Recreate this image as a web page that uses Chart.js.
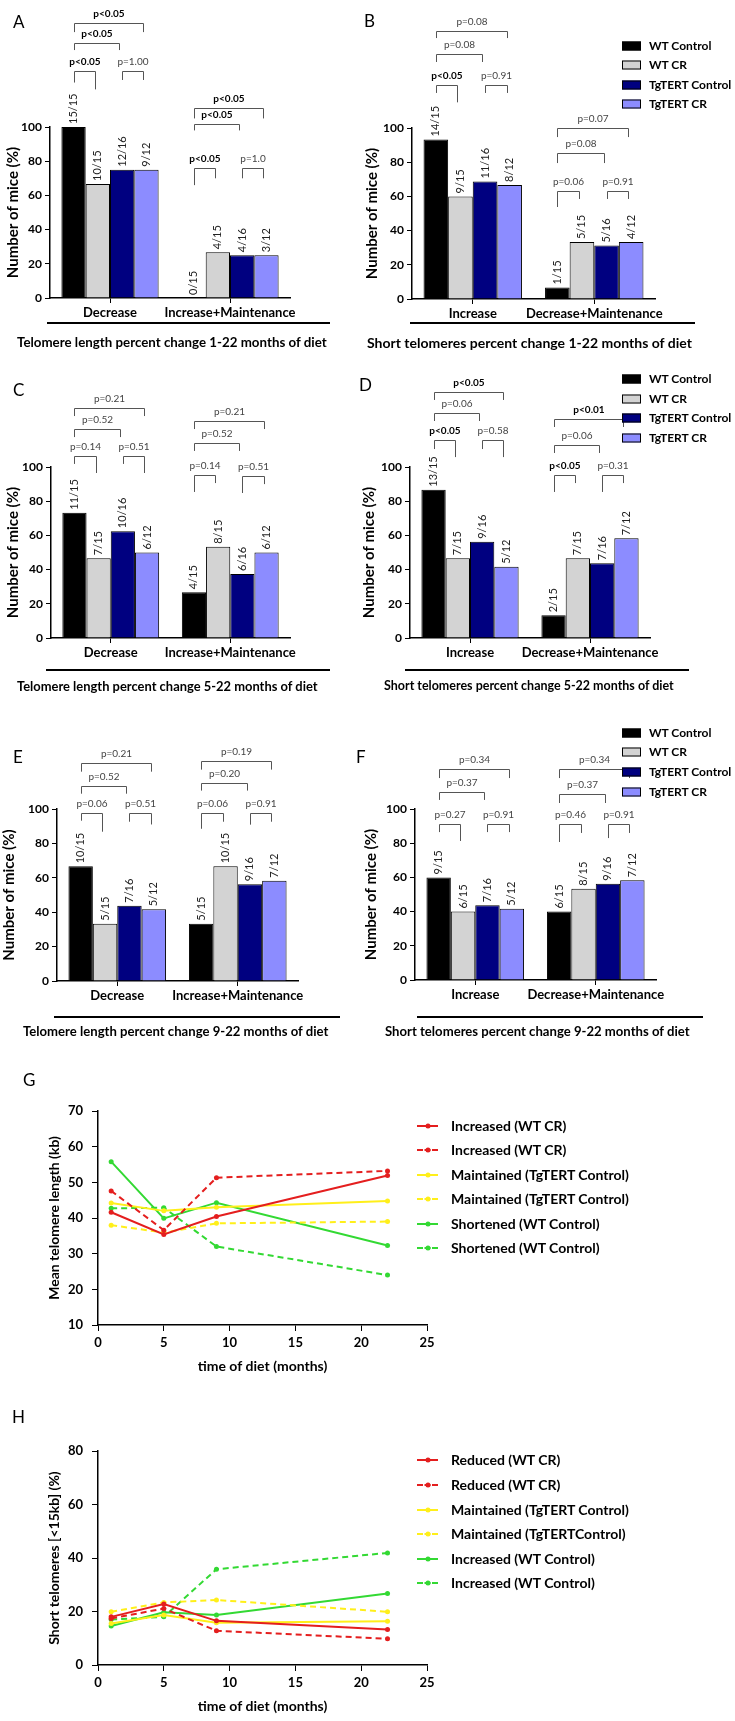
<!DOCTYPE html>
<html>
<head>
<meta charset="utf-8">
<script src="https://cdn.jsdelivr.net/npm/chart.js@4.4.1/dist/chart.umd.min.js"></script>
<style>
  body { margin: 0; background: #fff; font-family: Lato, "Open Sans", sans-serif; }
  #page { position: relative; width: 735px; height: 1721px; overflow: hidden; }
  canvas { position: absolute; }
  .lbl { position: absolute; font-size: 17px; line-height: 1; transform: translateY(-50%); }
  .cap { position: absolute; font-weight: bold; white-space: nowrap; line-height: 1; transform: translateY(-50%); }
  .rule { position: absolute; height: 2px; background: #000; }
  .leg { position: absolute; font-weight: bold; white-space: nowrap; line-height: 1; transform: translateY(-50%); z-index: 2; }
  .sq { position: absolute; width: 17px; height: 7px; border: 1px solid #000; transform: translateY(-50%); z-index: 2; }
  .ln { position: absolute; width: 21px; height: 0; transform: translateY(-1px); z-index: 2; }
  .dot { position: absolute; width: 5px; height: 5px; border-radius: 50%; transform: translate(-50%, -50%); z-index: 2; }
</style>
</head>
<body>
<div id="page">
  <canvas id="chartA" width="360" height="350" style="left:0;top:0"></canvas>
  <canvas id="chartB" width="375" height="350" style="left:360px;top:0"></canvas>
  <canvas id="chartC" width="360" height="350" style="left:0;top:350px"></canvas>
  <canvas id="chartD" width="375" height="350" style="left:360px;top:350px"></canvas>
  <canvas id="chartE" width="360" height="340" style="left:0;top:700px"></canvas>
  <canvas id="chartF" width="375" height="340" style="left:360px;top:700px"></canvas>
  <canvas id="chartG" width="445" height="345" style="left:0;top:1040px"></canvas>
  <canvas id="chartH" width="445" height="336" style="left:0;top:1385px"></canvas>
</div>
<script>
// ---- data ----
const seriesNames = ['WT Control', 'WT CR', 'TgTERT Control', 'TgTERT CR'];

const aCategories = ['Decrease', 'Increase+Maintenance'];
const aValues = [[100, 0], [66.7, 26.7], [75, 25], [75, 25]];
const aCounts = [['15/15', '0/15'], ['10/15', '4/15'], ['12/16', '4/16'], ['9/12', '3/12']];
// [category, from bar, to bar, level, left leg end, right leg end, text, bold]
const aBrackets = [
  [0, 0, 3, 160.8, 155.5, 155.5, 'p<0.05', 1], [0, 0, 2, 149, 145, 145, 'p<0.05', 1],
  [0, 0, 1, 133, 126, 122, 'p<0.05', 1], [0, 2, 3, 133, 127.5, 127.5, 'p=1.00', 0],
  [1, 0, 3, 111, 105, 105, 'p<0.05', 1], [1, 0, 2, 102, 98, 98, 'p<0.05', 1],
  [1, 0, 1, 76, 66, 70, 'p<0.05', 1], [1, 2, 3, 76, 70, 70, 'p=1.0', 0]
];

const bCategories = ['Increase', 'Decrease+Maintenance'];
const bValues = [[93.3, 6.7], [60, 33.3], [68.75, 31.25], [66.7, 33.3]];
const bCounts = [['14/15', '1/15'], ['9/15', '5/15'], ['11/16', '5/16'], ['8/12', '4/12']];
const bBrackets = [
  [0, 0, 3, 157, 152.6, 152.6, 'p=0.08', 0], [0, 0, 2, 143, 138.6, 138.6, 'p=0.08', 0],
  [0, 0, 1, 125, 120.5, 115, 'p<0.05', 1], [0, 2, 3, 125, 120.5, 120.5, 'p=0.91', 0],
  [1, 0, 3, 100, 94.7, 94.7, 'p=0.07', 0], [1, 0, 2, 85.4, 79.5, 79.5, 'p=0.08', 0],
  [1, 0, 1, 63, 53.8, 58.5, 'p=0.06', 0], [1, 2, 3, 63, 58.5, 58.5, 'p=0.91', 0]
];

const cCategories = ['Decrease', 'Increase+Maintenance'];
const cValues = [[73.3, 26.7], [46.7, 53.3], [62.5, 37.5], [50, 50]];
const cCounts = [['11/15', '4/15'], ['7/15', '8/15'], ['10/16', '6/16'], ['6/12', '6/12']];
const cBrackets = [
  [0, 0, 3, 134.5, 129.8, 129.8, 'p=0.21', 0], [0, 0, 2, 122.2, 117.5, 117.5, 'p=0.52', 0],
  [0, 0, 1, 106.4, 101.8, 96.5, 'p=0.14', 0], [0, 2, 3, 106.4, 101.8, 96.5, 'p=0.51', 0],
  [1, 0, 3, 126.9, 122.2, 122.2, 'p=0.21', 0], [1, 0, 2, 114, 109.4, 109.4, 'p=0.52', 0],
  [1, 0, 1, 95.3, 85.4, 90.6, 'p=0.14', 0], [1, 2, 3, 94.7, 84.8, 90, 'p=0.51', 0]
];

const dCategories = ['Increase', 'Decrease+Maintenance'];
const dValues = [[86.7, 13.3], [46.7, 46.7], [56.25, 43.75], [41.7, 58.3]];
const dCounts = [['13/15', '2/15'], ['7/15', '7/15'], ['9/16', '7/16'], ['5/12', '7/12']];
const dBrackets = [
  [0, 0, 3, 143.9, 139.2, 139.2, 'p<0.05', 1], [0, 0, 2, 131.6, 126.9, 126.9, 'p=0.06', 0],
  [0, 0, 1, 115.8, 110.5, 105.8, 'p<0.05', 1], [0, 2, 3, 115.8, 110.5, 105.8, 'p=0.58', 0],
  [1, 0, 3, 128, 123.4, 123.4, 'p<0.01', 1], [1, 0, 2, 112.9, 108.2, 108.2, 'p=0.06', 0],
  [1, 0, 1, 95.3, 85.4, 90.6, 'p<0.05', 1], [1, 2, 3, 95.3, 85.4, 90.6, 'p=0.31', 0]
];

const eCategories = ['Decrease', 'Increase+Maintenance'];
const eValues = [[66.7, 33.3], [33.3, 66.7], [43.75, 56.25], [41.7, 58.3]];
const eCounts = [['10/15', '5/15'], ['5/15', '10/15'], ['7/16', '9/16'], ['5/12', '7/12']];
const eBrackets = [
  [0, 0, 3, 127, 121.7, 121.7, 'p=0.21', 0], [0, 0, 2, 113.6, 108.9, 108.9, 'p=0.52', 0],
  [0, 0, 1, 97.8, 93.2, 86.8, 'p=0.06', 0], [0, 2, 3, 97.8, 92.6, 91, 'p=0.51', 0],
  [1, 0, 3, 128.1, 122.9, 122.9, 'p=0.19', 0], [1, 0, 2, 115.3, 110.7, 110.7, 'p=0.20', 0],
  [1, 0, 1, 97.8, 88.5, 92.6, 'p=0.06', 0], [1, 2, 3, 97.8, 90.9, 92.6, 'p=0.91', 0]
];

const fCategories = ['Increase', 'Decrease+Maintenance'];
const fValues = [[60, 40], [40, 53.3], [43.75, 56.25], [41.7, 58.3]];
const fCounts = [['9/15', '6/15'], ['6/15', '8/15'], ['7/16', '9/16'], ['5/12', '7/12']];
const fBrackets = [
  [0, 0, 3, 123.4, 118.1, 118.1, 'p=0.34', 0], [0, 0, 2, 109.9, 105.3, 105.3, 'p=0.37', 0],
  [0, 0, 1, 91.2, 86.5, 81.3, 'p=0.27', 0], [0, 2, 3, 91.2, 86.5, 86.5, 'p=0.91', 0],
  [1, 0, 3, 123.4, 118.1, 118.1, 'p=0.34', 0], [1, 0, 2, 108.8, 103.5, 103.5, 'p=0.37', 0],
  [1, 0, 1, 91.2, 80.7, 86, 'p=0.46', 0], [1, 2, 3, 91.2, 83, 86, 'p=0.91', 0]
];

const months = [1, 5, 9, 22];
const monthTicks = [0, 5, 10, 15, 20, 25];

const gIncreasedSolid = [41.6, 35.4, 40.4, 51.9];
const gIncreasedDashed = [47.6, 36.6, 51.3, 53.2];
const gMaintainedSolid = [44.2, 42.0, 43.0, 44.8];
const gMaintainedDashed = [38.0, 35.9, 38.5, 39.0];
const gShortenedSolid = [55.8, 39.9, 44.3, 32.3];
const gShortenedDashed = [42.7, 42.9, 32.0, 24.0];
const gLabels = ['Increased (WT CR)', 'Increased (WT CR)', 'Maintained (TgTERT Control)',
  'Maintained (TgTERT Control)', 'Shortened (WT Control)', 'Shortened (WT Control)'];

const hReducedSolid = [18.0, 22.8, 16.5, 13.3];
const hReducedDashed = [17.4, 21.1, 12.8, 9.8];
const hMaintainedSolid = [15.5, 18.7, 15.8, 16.4];
const hMaintainedDashed = [19.9, 23.4, 24.3, 19.9];
const hIncreasedSolid = [14.6, 19.7, 18.7, 26.7];
const hIncreasedDashed = [17.0, 18.0, 35.8, 41.9];
const hLabels = ['Reduced (WT CR)', 'Reduced (WT CR)', 'Maintained (TgTERT Control)',
  'Maintained (TgTERTControl)', 'Increased (WT Control)', 'Increased (WT Control)'];

// ---- styles ----
const barFill = ['#000000', '#D3D3D3', '#000080', '#8C8CFF'];
const lineColors = ['#E41E1E', '#E41E1E', '#FFEF1A', '#FFEF1A', '#33D933', '#33D933'];
const lineDashed = [false, true, false, true, false, true];

Chart.defaults.font.family = 'Lato';
Chart.defaults.color = '#000';

const page = document.getElementById('page');

function addEl(cls, style, text) {
  const el = document.createElement('div');
  el.className = cls;
  Object.assign(el.style, style);
  if (text) el.textContent = text;
  page.appendChild(el);
  return el;
}

// Bar counts written vertically above each bar
const countLabels = {
  id: 'countLabels',
  afterDatasetsDraw(chart, args, opts) {
    const ctx = chart.ctx;
    ctx.save();
    ctx.font = '11px Lato';
    ctx.fillStyle = '#222';
    ctx.textAlign = 'left';
    ctx.textBaseline = 'middle';
    chart.data.datasets.forEach((ds, d) => {
      chart.getDatasetMeta(d).data.forEach((bar, i) => {
        ctx.save();
        ctx.translate(bar.x, bar.y - 3);
        ctx.rotate(-Math.PI / 2);
        ctx.fillText(opts.counts[d][i], 0, 0);
        ctx.restore();
      });
    });
    ctx.restore();
  }
};

// Significance brackets above the bars
const pBrackets = {
  id: 'pBrackets',
  afterDatasetsDraw(chart, args, opts) {
    const ctx = chart.ctx;
    const y = chart.scales.y;
    ctx.save();
    opts.brackets.forEach(([cat, a, b, level, legL, legR, text, bold]) => {
      const x1 = Math.round(chart.getDatasetMeta(a).data[cat].x) + 0.5;
      const x2 = Math.round(chart.getDatasetMeta(b).data[cat].x - 3) + 0.5;
      const yl = Math.round(y.getPixelForValue(level)) + 0.5;
      ctx.strokeStyle = '#555';
      ctx.lineWidth = 1;
      ctx.beginPath();
      ctx.moveTo(x1, y.getPixelForValue(legL));
      ctx.lineTo(x1, yl);
      ctx.lineTo(x2, yl);
      ctx.lineTo(x2, y.getPixelForValue(legR));
      ctx.stroke();
      ctx.font = (bold ? 'bold ' : '') + '10px Lato';
      ctx.fillStyle = bold ? '#000' : '#444';
      ctx.textAlign = 'center';
      ctx.textBaseline = 'middle';
      ctx.fillText(text, (x1 + x2) / 2, yl - 10);
    });
    ctx.restore();
  }
};

function renderBarChart(id, categories, values, counts, brackets, box) {
  const canvas = document.getElementById(id);
  const cx = parseFloat(canvas.style.left) || 0;
  const cy = parseFloat(canvas.style.top) || 0;
  const left = box.l - cx;
  const yTitleFont = 15;
  return new Chart(canvas, {
    type: 'bar',
    data: {
      labels: categories,
      datasets: values.map((v, i) => ({
        label: seriesNames[i],
        data: v,
        backgroundColor: barFill[i],
        borderColor: '#000',
        borderWidth: 1,
        categoryPercentage: 0.81,
        barPercentage: 1
      }))
    },
    options: {
      responsive: false,
      animation: false,
      layout: { padding: { left: 0, top: box.t - cy, right: canvas.width - (box.r - cx), bottom: canvas.height - (box.b - cy) - 30 } },
      plugins: {
        legend: { display: false },
        tooltip: { enabled: false },
        countLabels: { counts: counts },
        pBrackets: { brackets: brackets }
      },
      scales: {
        x: {
          offset: true,
          grid: { offset: false, drawOnChartArea: false, tickLength: 5, color: '#000' },
          border: { color: '#000', width: 1.5 },
          ticks: { color: '#000', padding: 2, autoSkip: false, maxRotation: 0, minRotation: 0, font: { size: 13, weight: 'bold' } },
          afterFit(s) { s.height = 30; }
        },
        y: {
          min: 0,
          max: 100,
          ticks: { stepSize: 20, color: '#000', padding: 3, font: { size: 12, weight: 'bold' } },
          grid: { drawOnChartArea: false, tickLength: 5, color: '#000' },
          border: { color: '#000', width: 1.5 },
          title: {
            display: true,
            text: 'Number of mice (%)',
            color: '#000',
            font: { size: yTitleFont, weight: 'bold' },
            padding: { top: box.titleX - cx - yTitleFont * 0.6, bottom: 0 }
          },
          afterFit(s) { s.width = left; }
        }
      }
    },
    plugins: [countLabels, pBrackets]
  });
}

function renderLineChart(id, seriesData, yMin, yMax, yStep, yTitle, box) {
  const canvas = document.getElementById(id);
  const cy = parseFloat(canvas.style.top) || 0;
  const titleFont = 14;
  return new Chart(canvas, {
    type: 'line',
    data: {
      datasets: seriesData.map((arr, i) => ({
        data: months.map((m, k) => ({ x: m, y: arr[k] })),
        borderColor: lineColors[i],
        backgroundColor: lineColors[i],
        borderWidth: 2,
        borderDash: lineDashed[i] ? [6, 4] : [],
        pointRadius: 2.5,
        pointBorderWidth: 0,
        tension: 0,
        fill: false
      }))
    },
    options: {
      responsive: false,
      animation: false,
      layout: { padding: { left: 0, top: box.t - cy, right: canvas.width - box.r, bottom: canvas.height - (box.b - cy) - 50 } },
      plugins: { legend: { display: false }, tooltip: { enabled: false } },
      scales: {
        x: {
          type: 'linear',
          min: monthTicks[0],
          max: monthTicks[monthTicks.length - 1],
          ticks: { stepSize: 5, color: '#000', padding: 4, font: { size: 13, weight: 'bold' } },
          grid: { drawOnChartArea: false, tickLength: 6, color: '#000' },
          border: { color: '#000', width: 1.5 },
          title: { display: true, text: 'time of diet (months)', color: '#000', font: { size: 14, weight: 'bold' }, padding: { top: 0, bottom: 0 } },
          afterFit(s) { s.height = 50; }
        },
        y: {
          min: yMin,
          max: yMax,
          ticks: { stepSize: yStep, color: '#000', padding: 9, font: { size: 13, weight: 'bold' } },
          grid: { drawOnChartArea: false, tickLength: 6, color: '#000' },
          border: { color: '#000', width: 1.5 },
          title: {
            display: true,
            text: yTitle,
            color: '#000',
            font: { size: titleFont, weight: 'bold' },
            padding: { top: box.titleX - titleFont * 0.6, bottom: 0 }
          },
          afterFit(s) { s.width = box.l; }
        }
      }
    }
  });
}

// text fitted to a measured width
const measureCtx = document.createElement('canvas').getContext('2d');
function addCaption(text, left, right, y) {
  measureCtx.font = 'bold 13px Lato';
  const size = 13 * (right - left) / measureCtx.measureText(text).width;
  addEl('cap', { left: left + 'px', top: y + 'px', fontSize: size.toFixed(2) + 'px' }, text);
}

function addBarLegend(rows) {
  rows.forEach((y, i) => {
    addEl('sq', { left: '622px', top: y + 'px', background: barFill[i] });
    addEl('leg', { left: '649px', top: y + 'px', fontSize: '12px' }, seriesNames[i]);
  });
}

function addLineLegend(rows, labels) {
  rows.forEach((y, i) => {
    addEl('ln', { left: '417px', top: y + 'px', borderTop: '2px ' + (lineDashed[i] ? 'dashed ' : 'solid ') + lineColors[i] });
    addEl('dot', { left: '428px', top: y + 'px', background: lineColors[i] });
    addEl('leg', { left: '451px', top: y + 'px', fontSize: '14px' }, labels[i]);
  });
}

// ---- charts ----
renderBarChart('chartA', aCategories, aValues, aCounts, aBrackets, { l: 50, r: 290, t: 127, b: 298, titleX: 13 });
renderBarChart('chartB', bCategories, bValues, bCounts, bBrackets, { l: 412, r: 655, t: 128, b: 299, titleX: 372 });
renderBarChart('chartC', cCategories, cValues, cCounts, cBrackets, { l: 51, r: 290, t: 467, b: 638, titleX: 13 });
renderBarChart('chartD', dCategories, dValues, dCounts, dBrackets, { l: 410, r: 650, t: 467, b: 638, titleX: 369 });
renderBarChart('chartE', eCategories, eValues, eCounts, eBrackets, { l: 57, r: 298, t: 809, b: 981, titleX: 9 });
renderBarChart('chartF', fCategories, fValues, fCounts, fBrackets, { l: 415, r: 656, t: 809, b: 980, titleX: 371 });

renderLineChart('chartG', [gIncreasedSolid, gIncreasedDashed, gMaintainedSolid, gMaintainedDashed, gShortenedSolid, gShortenedDashed],
  10, 70, 10, 'Mean telomere length (kb)', { l: 98, r: 427, t: 1111, b: 1325, titleX: 54 });
renderLineChart('chartH', [hReducedSolid, hReducedDashed, hMaintainedSolid, hMaintainedDashed, hIncreasedSolid, hIncreasedDashed],
  0, 80, 20, 'Short telomeres [<15kb] (%)', { l: 98, r: 427, t: 1451, b: 1665, titleX: 54 });

// ---- panel letters, rules, captions, legends ----
[['A', 13, 21], ['B', 364, 20], ['C', 13, 389], ['D', 359, 384], ['E', 13, 756], ['F', 356, 756], ['G', 23, 1079], ['H', 12, 1416]]
  .forEach(([t, x, y]) => addEl('lbl', { left: x + 'px', top: y + 'px' }, t));

[[47, 330, 322], [410, 695, 322], [46, 330, 669], [405, 689, 669], [54, 340, 1016], [417, 703, 1016]]
  .forEach(([x1, x2, y]) => addEl('rule', { left: x1 + 'px', top: y + 'px', width: (x2 - x1) + 'px' }));

addCaption('Telomere length percent change 1-22 months of diet', 17, 327, 343);
addCaption('Short telomeres percent change 1-22 months of diet', 367, 692, 343);
addCaption('Telomere length percent change 5-22 months of diet', 17, 318, 686);
addCaption('Short telomeres percent change 5-22 months of diet', 384, 674, 686);
addCaption('Telomere length percent change 9-22 months of diet', 23, 329, 1032);
addCaption('Short telomeres percent change 9-22 months of diet', 385, 690, 1032);

addBarLegend([46, 65, 85, 104]);
addBarLegend([379, 399, 418, 438]);
addBarLegend([733, 752, 772, 792]);

addLineLegend([1126, 1150, 1175, 1199, 1224, 1248], gLabels);
addLineLegend([1460, 1485, 1510, 1534, 1559, 1583], hLabels);
</script>
</body>
</html>
